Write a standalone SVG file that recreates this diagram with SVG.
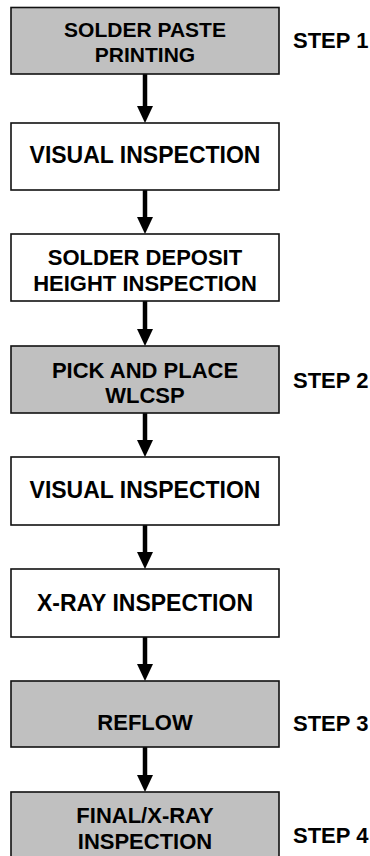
<svg xmlns="http://www.w3.org/2000/svg" width="370" height="856" viewBox="0 0 370 856">
<style>
.box{stroke:#111;stroke-width:1.6}
.gray{fill:#c0c0c0}
.white{fill:#fff}
text{font-family:"Liberation Sans",Arial,sans-serif;font-weight:bold;fill:#000}
.t{text-anchor:middle;font-size:22px}
.t1{font-size:23px}
.t2{font-size:21px}
.step{font-size:22px}
.conn{stroke:#000;stroke-width:4.5;fill:none}
</style>
<defs>
<marker id="ah" markerUnits="userSpaceOnUse" markerWidth="17" markerHeight="16" refX="7" refY="8" orient="auto">
<path d="M0,0 L17,8 L0,16 z" fill="#000"/>
</marker>
</defs>
<rect width="370" height="856" fill="#fff"/>
<g id="connectors">
<line class="conn" x1="145" y1="74" x2="145" y2="113" marker-end="url(#ah)"/>
<line class="conn" x1="145" y1="190" x2="145" y2="224" marker-end="url(#ah)"/>
<line class="conn" x1="145" y1="301" x2="145" y2="336" marker-end="url(#ah)"/>
<line class="conn" x1="145" y1="413" x2="145" y2="447" marker-end="url(#ah)"/>
<line class="conn" x1="145" y1="525" x2="145" y2="559" marker-end="url(#ah)"/>
<line class="conn" x1="145" y1="637" x2="145" y2="671" marker-end="url(#ah)"/>
<line class="conn" x1="145" y1="747" x2="145" y2="782" marker-end="url(#ah)"/>
</g>
<g id="n1">
<rect class="box gray" x="11" y="7.5" width="268" height="66.5"/>
<text class="t t2" x="145" y="36.7">SOLDER PASTE</text>
<text class="t t2" x="145" y="62.3">PRINTING</text>
</g>
<g id="n2">
<rect class="box white" x="11" y="123" width="268" height="67"/>
<text class="t t1" x="145" y="163.3">VISUAL INSPECTION</text>
</g>
<g id="n3">
<rect class="box white" x="11" y="234" width="268" height="67"/>
<text class="t" x="145" y="265">SOLDER DEPOSIT</text>
<text class="t" x="145" y="291">HEIGHT INSPECTION</text>
</g>
<g id="n4">
<rect class="box gray" x="11" y="346" width="268" height="67"/>
<text class="t" x="145" y="378.3">PICK AND PLACE</text>
<text class="t" x="145" y="403.3">WLCSP</text>
</g>
<g id="n5">
<rect class="box white" x="11" y="457" width="268" height="68"/>
<text class="t t1" x="145" y="498.3">VISUAL INSPECTION</text>
</g>
<g id="n6">
<rect class="box white" x="11" y="569" width="268" height="68"/>
<text class="t t1" x="145" y="610.7">X-RAY INSPECTION</text>
</g>
<g id="n7">
<rect class="box gray" x="11" y="681" width="268" height="66"/>
<text class="t" x="145" y="730">REFLOW</text>
</g>
<g id="n8">
<rect class="box gray" x="11" y="792" width="268" height="67"/>
<text class="t" x="145" y="823.3">FINAL/X-RAY</text>
<text class="t" x="145" y="849.3">INSPECTION</text>
</g>
<g id="steps">
<text class="step" x="293" y="48.3">STEP 1</text>
<text class="step" x="293" y="388.3">STEP 2</text>
<text class="step" x="293" y="730.7">STEP 3</text>
<text class="step" x="293" y="842.7">STEP 4</text>
</g>
</svg>
